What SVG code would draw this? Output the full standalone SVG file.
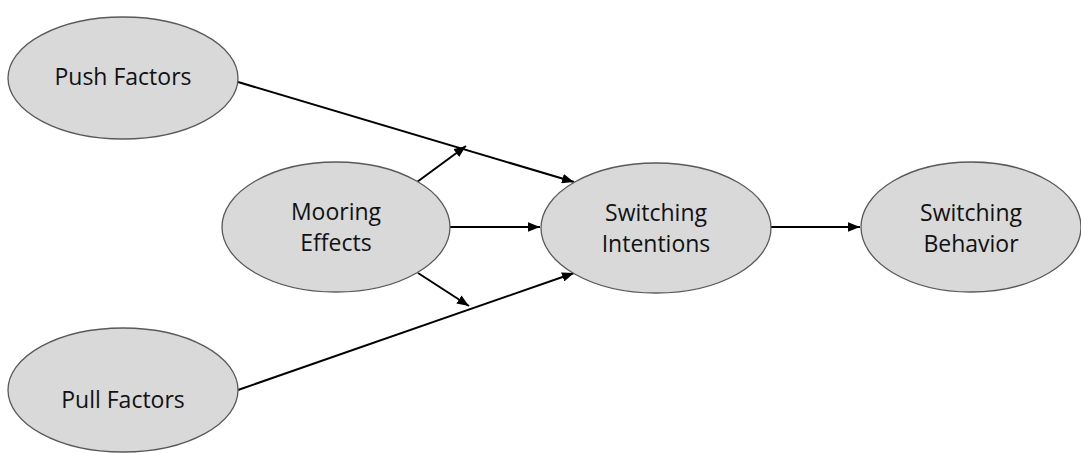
<svg xmlns="http://www.w3.org/2000/svg" width="1081" height="453" viewBox="0 0 1081 453">
<style>
.node ellipse{fill:#d9d9d9;stroke:#595959;stroke-width:1.3}
.node text{font-family:"Open Sans","Liberation Sans",sans-serif;font-size:23px;fill:#111;text-anchor:middle}
.edges line{stroke:#000;stroke-width:2;marker-end:url(#arr)}
</style>
<defs>
<marker id="arr" viewBox="0 0 10 8" refX="10" refY="4" markerWidth="6" markerHeight="4.8" orient="auto" markerUnits="strokeWidth">
<path d="M0,0 L10,4 L0,8 Z" fill="#000"/>
</marker>
</defs>
<rect width="1081" height="453" fill="#fff"/>
<g class="edges">
<line x1="238" y1="82" x2="574" y2="182"/>
<line x1="238" y1="390" x2="574" y2="273"/>
<line x1="417" y1="182" x2="466" y2="146"/>
<line x1="418" y1="273" x2="469" y2="306"/>
<line x1="450" y1="227" x2="540" y2="227"/>
<line x1="771" y1="227" x2="860" y2="227"/>
</g>
<g id="push" class="node"><ellipse cx="123" cy="78" rx="115" ry="61"/><text x="123" y="85">Push Factors</text></g>
<g id="pull" class="node"><ellipse cx="123" cy="390" rx="115" ry="62"/><text x="123" y="408">Pull Factors</text></g>
<g id="mooring" class="node"><ellipse cx="336" cy="227" rx="114" ry="65"/><text x="336" y="220">Mooring</text><text x="336" y="251">Effects</text></g>
<g id="intentions" class="node"><ellipse cx="656" cy="228" rx="115" ry="65"/><text x="656" y="221">Switching</text><text x="656" y="252">Intentions</text></g>
<g id="behavior" class="node"><ellipse cx="971" cy="227" rx="110" ry="65"/><text x="971" y="221">Switching</text><text x="971" y="252">Behavior</text></g>
</svg>
